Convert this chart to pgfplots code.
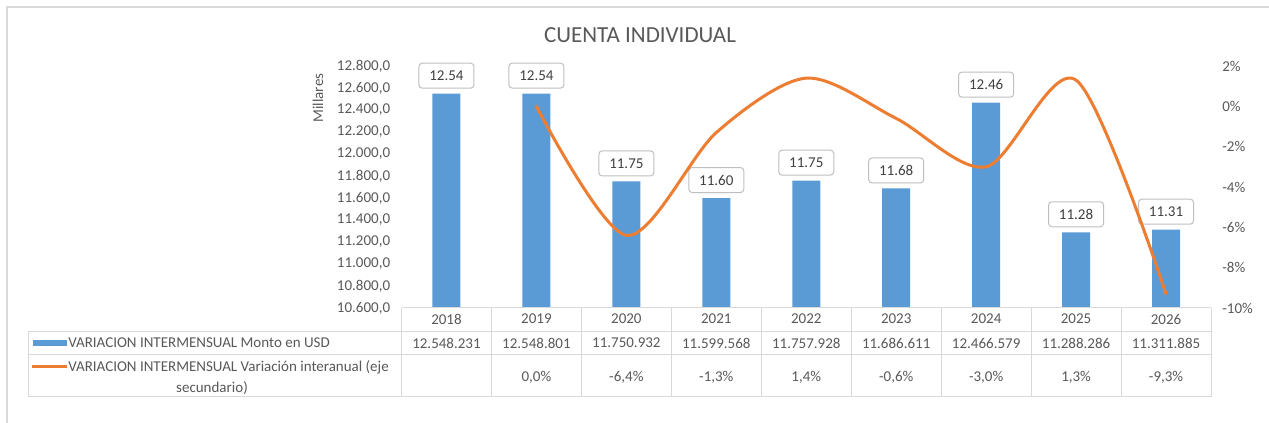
\documentclass[border=0pt]{standalone}
\usepackage{fontspec}
\setmainfont{Carlito}
\usepackage{pgfplots}
\pgfplotsset{compat=1.18}

\definecolor{barblue}{HTML}{5B9BD5}
\definecolor{lineorange}{HTML}{ED7D31}
\definecolor{txtgray}{HTML}{595959}
\definecolor{lblgray}{HTML}{404040}
\definecolor{gridgray}{HTML}{D9D9D9}
\definecolor{boxgray}{HTML}{BFBFBF}

\newcommand{\fs}{\fontsize{11.25}{13.5}\selectfont}

\begin{document}
\begin{tikzpicture}
% page frame in px units (1px = 0.75pt), y up
\begin{scope}[x=0.75pt,y=0.75pt]
  \useasboundingbox (0,0) rectangle (1269,423);
  \fill[white] (0,0) rectangle (1269,423);
  \draw[gridgray, line width=0.9pt] (7,-10) -- (7,416) -- (1290,416);
  \node[font=\fontsize{17.25}{20}\selectfont, text=txtgray] at (640,388) {CUENTA INDIVIDUAL};
  \node[font=\fs, text=txtgray, rotate=90] at (318,325) {Millares};
\end{scope}

% primary axis: bars
\begin{axis}[
  at={(301.125pt,86.25pt)}, anchor=south west,
  scale only axis, width=607.125pt, height=181.5pt,
  xmin=-0.5, xmax=8.5, ymin=10600, ymax=12800,
  xtick=\empty,
  ytick={10600,10800,11000,11200,11400,11600,11800,12000,12200,12400,12600,12800},
  scaled y ticks=false,
  axis line style={draw=none}, major tick length=0pt,
  ticklabel style={font=\fs, text=txtgray},
  /pgf/number format/fixed, /pgf/number format/fixed zerofill,
  /pgf/number format/precision=1, /pgf/number format/use comma,
  /pgf/number format/1000 sep={.}, /pgf/number format/assume math mode=true,
  yticklabel style={xshift=-5pt},
  ybar, bar width=21pt, clip=false,
  point meta=explicit symbolic,
  nodes near coords,
  every node near coord/.append style={font=\fs, text=lblgray, draw=boxgray,
    line width=0.75pt, fill=white, rounded corners=2.5pt, inner sep=0pt,
    minimum width=41.25pt, minimum height=18.75pt, anchor=south, yshift=3.75pt},
]
\addplot[fill=barblue, draw=none] coordinates {
  (0,12548.231) [12.54]
  (1,12548.801) [12.54]
  (2,11750.932) [11.75]
  (3,11599.568) [11.60]
  (4,11757.928) [11.75]
  (5,11686.611) [11.68]
  (6,12466.579) [12.46]
  (7,11288.286) [11.28]
  (8,11311.885) [11.31]
};
\end{axis}

% secondary axis: variation line
\begin{axis}[
  at={(301.125pt,86.25pt)}, anchor=south west,
  scale only axis, width=607.125pt, height=181.5pt,
  xmin=-0.5, xmax=8.5, ymin=-10, ymax=2,
  axis x line=none, axis y line*=right,
  ytick={-10,-8,-6,-4,-2,0,2},
  axis line style={draw=none}, major tick length=0pt,
  ticklabel style={font=\fs, text=txtgray},
  /pgf/number format/assume math mode=true,
  yticklabel style={anchor=west, xshift=5pt},
  yticklabel={\pgfmathprintnumber{\tick}\%},
]
\addplot[lineorange, line width=2.25pt, smooth, line cap=round] coordinates {
  (1,0.0) (2,-6.4) (3,-1.3) (4,1.4) (5,-0.6) (6,-3.0) (7,1.3) (8,-9.3)
};
\end{axis}

% data table below the plot
\begin{scope}[x=0.75pt,y=0.75pt]
  \def\xl{401.5}
  \def\cw{89.944}
  \draw[gridgray, line width=0.75pt] (\xl,115) -- (1211,115);
  \draw[gridgray, line width=0.75pt] (28,91) -- (1211,91);
  \draw[gridgray, line width=0.75pt] (28,68) -- (1211,68);
  \draw[gridgray, line width=0.75pt] (28,26) -- (1211,26);
  \draw[gridgray, line width=0.75pt] (28,91) -- (28,26);
  \foreach \k in {0,...,9} {
    \draw[gridgray, line width=0.75pt] ({\xl+\k*\cw},115) -- ({\xl+\k*\cw},26);
  }
  \foreach \yr [count=\i from 0] in {2018,2019,2020,2021,2022,2023,2024,2025,2026} {
    \node[font=\fs, text=txtgray] at ({\xl+(\i+0.5)*\cw},104) {\yr};
  }
  \foreach \v [count=\i from 0] in {12.548.231,12.548.801,11.750.932,11.599.568,11.757.928,11.686.611,12.466.579,11.288.286,11.311.885} {
    \node[font=\fs, text=txtgray] at ({\xl+(\i+0.5)*\cw},80) {\v};
  }
  \foreach \v [count=\i from 1] in {{0,0\%},{-6,4\%},{-1,3\%},{1,4\%},{-0,6\%},{-3,0\%},{1,3\%},{-9,3\%}} {
    \node[font=\fs, text=txtgray] at ({\xl+(\i+0.5)*\cw},46) {\v};
  }
  % legend keys
  \fill[barblue] (33,77) rectangle (67,83);
  \draw[lineorange, line width=2.25pt] (32,56) -- (67,56);
  \node[font=\fs, text=txtgray, anchor=west, inner sep=0pt] at (68,80) {VARIACION INTERMENSUAL Monto en USD};
  \node[font=\fs, text=txtgray, anchor=west, inner sep=0pt] at (68,56) {VARIACION INTERMENSUAL Variación interanual (eje};
  \node[font=\fs, text=txtgray, inner sep=0pt] at (212,35) {secundario)};
\end{scope}
\end{tikzpicture}
\end{document}
